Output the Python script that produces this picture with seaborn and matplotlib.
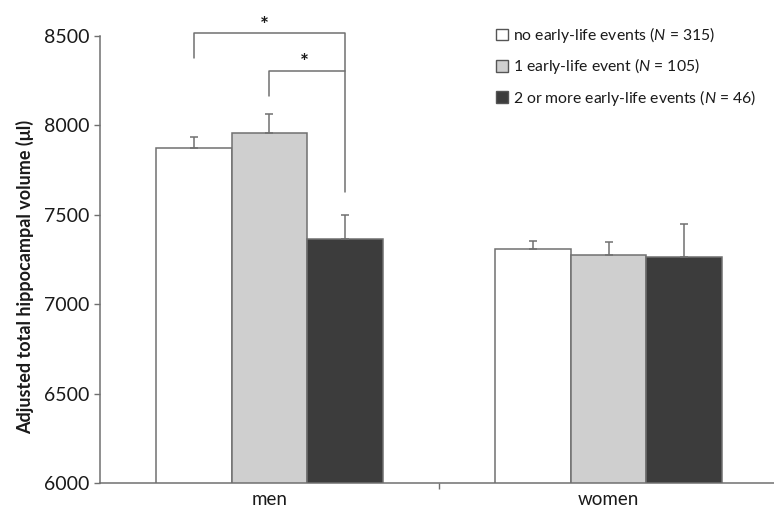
import matplotlib
matplotlib.use("Agg")
import matplotlib.pyplot as plt
from matplotlib.patches import Patch
import seaborn as sns
import pandas as pd

# values
sexes = ["men", "women"]
groups = ["none", "one", "two_plus"]
group_labels = [r"no early-life events ($N$ = 315)",
                r"1 early-life event ($N$ = 105)",
                r"2 or more early-life events ($N$ = 46)"]
means_men = [7874, 7955, 7364]
means_women = [7307, 7273, 7265]
se_men = [60, 109, 136]
se_women = [48, 73, 181]
colors = ["#ffffff", "#cfcfcf", "#3c3c3c"]

sns.set_style("ticks")
plt.rcParams["font.family"] = ["Lato", "DejaVu Sans"]
plt.rcParams["mathtext.fontset"] = "custom"
plt.rcParams["mathtext.it"] = "Lato:italic"
plt.rcParams["mathtext.rm"] = "Lato"

rows = []
for i, g in enumerate(groups):
    rows.append({"sex": "men", "group": g, "volume": means_men[i], "se": se_men[i]})
    rows.append({"sex": "women", "group": g, "volume": means_women[i], "se": se_women[i]})
df = pd.DataFrame(rows)

edge = "#707070"
txt = "#1a1a1a"
fig = plt.figure(figsize=(7.74, 5.09), dpi=100)
ax = fig.add_axes([0.129, 0.051, 0.871, 0.879])

sns.barplot(data=df, x="sex", y="volume", hue="group", order=sexes,
            hue_order=groups, palette=colors, width=0.67, errorbar=None,
            edgecolor=edge, linewidth=1.1, legend=False, ax=ax)

# one-sided error bars
bar_conts = list(ax.containers)
centers = {}
for gi, cont in enumerate(bar_conts):
    for si, bar in enumerate(cont):
        xc = bar.get_x() + bar.get_width() / 2
        h = bar.get_height()
        se = (se_men if si == 0 else se_women)[gi]
        centers[(si, gi)] = xc
        ax.errorbar(xc, h, yerr=[[0], [se]], fmt="none", ecolor=edge,
                    elinewidth=1.1, capsize=3, capthick=1.1)

# significance brackets
x0, x1, x2 = centers[(0, 0)], centers[(0, 1)], centers[(0, 2)]
kw = dict(color=edge, lw=1.1, clip_on=False)
ax.plot([x0, x0, x2, x2], [8374, 8513, 8513, 7625], **kw)
ax.plot([x1, x1, x2], [8163, 8303, 8303], **kw)
ax.text((x0 + x2) / 2 - 0.015, 8555, "*", ha="center", va="center",
        fontsize=15, fontweight="bold", color=txt, clip_on=False)
ax.text((x1 + x2) / 2 - 0.01, 8345, "*", ha="center", va="center",
        fontsize=15, fontweight="bold", color=txt, clip_on=False)

ax.set_ylim(6000, 8500)
ax.set_xlim(-0.5, 1.488)
ax.set_yticks([6000, 6500, 7000, 7500, 8000, 8500])
ax.tick_params(axis="y", labelsize=14, length=4, color=edge, width=1,
               labelcolor=txt)
ax.tick_params(axis="x", which="major", labelsize=13.5, length=0, pad=6,
               labelcolor=txt)
ax.set_xticks([0.5], minor=True)
ax.tick_params(axis="x", which="minor", length=4, color=edge, width=1)
ax.set_xlabel("")
ax.set_ylabel("Adjusted total hippocampal volume (μl)", fontsize=13,
              fontweight="bold", color=txt)
ax.yaxis.set_label_coords(-0.097, 0.46)
for s in ["top", "right"]:
    ax.spines[s].set_visible(False)
for s in ["left", "bottom"]:
    ax.spines[s].set_color(edge)
    ax.spines[s].set_linewidth(1.1)

handles = [Patch(facecolor=c, edgecolor="#555555", linewidth=1) for c in colors]
leg = fig.legend(handles, group_labels, loc="upper left",
                 bbox_to_anchor=(0.633, 0.963), frameon=False, fontsize=11.3,
                 handlelength=0.75, handleheight=0.75, handletextpad=0.3,
                 labelspacing=0.72, borderaxespad=0)
for t in leg.get_texts():
    t.set_color(txt)

fig.savefig("out.png", dpi=100)
